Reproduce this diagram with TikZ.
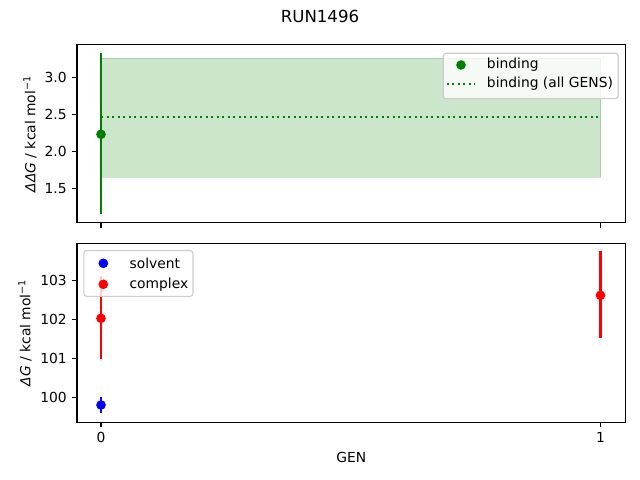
\documentclass[tikz,border=0pt]{standalone}
\usepackage{fontspec}
\setmainfont{DejaVu Sans}
\usepackage{xcolor}
\usepackage{tikz}
\definecolor{mplgreen}{rgb}{0,0.5,0}
\definecolor{legendedge}{gray}{0.8}

\begin{document}
\begin{tikzpicture}[x=0.01in, y=-0.01in, font=\fontsize{10}{12}\selectfont,
  spine/.style={draw, line width=0.8pt},
  tickmark/.style={line width=0.8pt},
  errbar/.style={line width=1.5pt},
  dotted line/.style={line width=1.5pt, dash pattern=on 1.5pt off 2.475pt},
  datapoint/.style={circle, inner sep=0pt, minimum size=7pt},
  legendbox/.style={draw=legendedge, fill=white, fill opacity=0.8, rounded corners=2pt, line width=0.8pt, anchor=north west}]
  \useasboundingbox (0,0) rectangle (640,480);

  % title
  \node (title) at (320,16) [font=\fontsize{12}{14}\selectfont] {RUN1496};

  % top panel: binding
  \filldraw[fill=mplgreen, draw=mplgreen, opacity=0.2] (101,58.3) rectangle (600.5,177);
  \coordinate (allA) at (101,117);
  \coordinate (allB) at (600.5,117);
  \draw[mplgreen, dotted line] (allA) -- (allB);
  \coordinate (bindtop) at (101,53.3);
  \coordinate (bindbot) at (101,214.3);
  \draw[mplgreen, errbar] (bindtop) -- (bindbot);
  \node (bind0) at (101,134.3) [datapoint, fill=mplgreen] {};
  \draw[spine] (77,44.7) rectangle (625.7,222.8);
  \foreach \v/\py [count=\i] in {3.0/77.3, 2.5/114.3, 2.0/151.3, 1.5/188.3}
    \draw[tickmark] (77,\py) -- (72.1,\py) node (ytop\i) [left, inner sep=3.5pt] {\v};
  \foreach \px [count=\i] in {101, 600.5}
    \draw[tickmark] (\px,222.8) -- (\px,227.7) coordinate (xtop\i);
  \node (ylabtop) at (30,134) [rotate=90] {\textit{ΔΔG} / kcal mol\textsuperscript{−1}};

  % top legend
  \node (legtop) at (442.7,52.7) [legendbox, minimum width=126.4pt, minimum height=32.8pt] {};
  \node (legbind) at (461,65) [datapoint, fill=mplgreen] {};
  \node (legbindtxt) at (486.7,65) [anchor=west, inner sep=0pt] {binding};
  \coordinate (legallA) at (446.7,83.7);
  \coordinate (legallB) at (475,83.7);
  \draw[mplgreen, dotted line] (legallA) -- (legallB);
  \node (legalltxt) at (486.7,83.7) [anchor=west, inner sep=0pt] {binding (all GENS)};

  % bottom panel: solvent and complex
  \coordinate (solvtop) at (101,397.3);
  \coordinate (solvbot) at (101,413.3);
  \draw[blue, errbar] (solvtop) -- (solvbot);
  \node (solv0) at (101,405) [datapoint, fill=blue] {};
  \coordinate (cplxtopA) at (101,276);
  \coordinate (cplxbotA) at (101,359.3);
  \draw[red, errbar] (cplxtopA) -- (cplxbotA);
  \node (cplx0) at (101,318.3) [datapoint, fill=red] {};
  \coordinate (cplxtopB) at (600.5,251);
  \coordinate (cplxbotB) at (600.5,337.7);
  \draw[red, errbar] (cplxtopB) -- (cplxbotB);
  \node (cplx1) at (600.5,295.3) [datapoint, fill=red] {};
  \draw[spine] (77,243.3) rectangle (625.7,422.3);
  \foreach \v/\py [count=\i] in {103/280.3, 102/319.3, 101/358.3, 100/397.3}
    \draw[tickmark] (77,\py) -- (72.1,\py) node (ybot\i) [left, inner sep=3.5pt] {\v};
  \foreach \v/\px [count=\i] in {0/101, 1/600.5}
    \draw[tickmark] (\px,422.3) -- (\px,427.2) node (xbot\i) [below, inner sep=3.5pt] {\v};
  \node (ylabbot) at (25,332.7) [rotate=90] {\textit{ΔG} / kcal mol\textsuperscript{−1}};
  \node (xlab) at (351.3,457.7) {GEN};

  % bottom legend
  \node (legbot) at (83.3,250) [legendbox, minimum width=78.8pt, minimum height=33.1pt] {};
  \node (legsolv) at (103.3,263.3) [datapoint, fill=blue] {};
  \node (legsolvtxt) at (129.3,263.3) [anchor=west, inner sep=0pt] {solvent};
  \node (legcplx) at (103.3,284.3) [datapoint, fill=red] {};
  \node (legcplxtxt) at (129.3,284.3) [anchor=west, inner sep=0pt] {complex};
\end{tikzpicture}
\end{document}
